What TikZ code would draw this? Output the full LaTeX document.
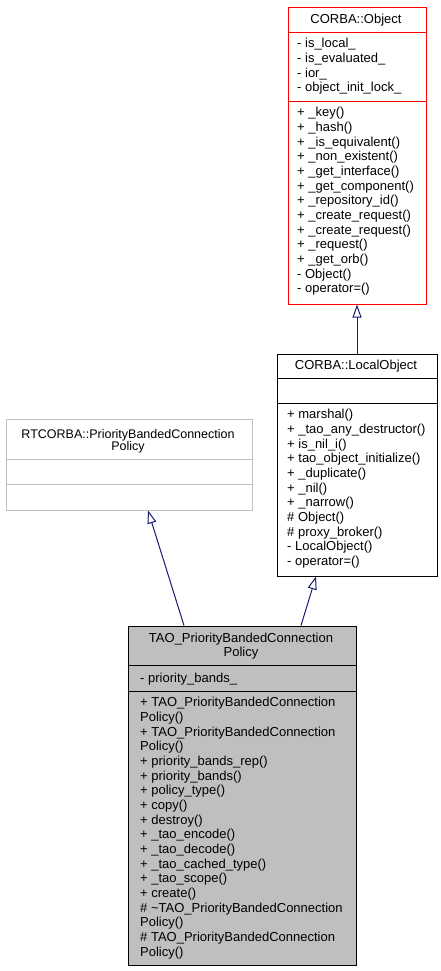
\documentclass[tikz,border=0pt]{standalone}
\usepackage{fontspec}
\setmainfont{Liberation Sans}
\usetikzlibrary{positioning,arrows.meta}
\definecolor{edgeblue}{HTML}{191970}
\definecolor{boxgray}{HTML}{BFBFBF}
\definecolor{linegray}{HTML}{BFBFBF}
\definecolor{objred}{HTML}{FF0000}

\begin{document}
\begin{tikzpicture}[x=1pt, y=-1pt,
% node styles
cls/.style={rectangle, line width=1pt, inner sep=0pt, anchor=north west},
ttl/.style={font=\fontsize{13}{14}\selectfont, align=center, anchor=north, inner sep=0pt},
txt/.style={font=\fontsize{13}{14.67}\selectfont, align=left, anchor=north west, inner sep=0pt, execute at begin node=\strut},
inh/.style={draw=edgeblue, line width=1pt, -{Triangle[open, length=13pt, width=9pt]}}
]
\useasboundingbox (0,0) rectangle (441,971);

% class boxes
\node[cls, draw=objred, minimum width=138pt, minimum height=296pt] (obj) at (287.5,7.5) {};
\node[cls, draw=black, minimum width=160pt, minimum height=222pt] (lobj) at (276.5,353.5) {};
\node[cls, draw=linegray, minimum width=246pt, minimum height=91pt] (rtc) at (5.5,418.5) {};
\node[cls, draw=black, fill=boxgray, minimum width=228pt, minimum height=339pt] (tao) at (127.5,625.5) {};

% compartment lines
\draw[objred, line width=1pt] (287.5,32.5) -- (425.5,32.5) (287.5,101.5) -- (425.5,101.5);
\draw[line width=1pt] (276.5,378.5) -- (436.5,378.5) (276.5,403.5) -- (436.5,403.5);
\draw[linegray, line width=1pt] (5.5,459.5) -- (251.5,459.5) (5.5,484.5) -- (251.5,484.5);
\draw[line width=1pt] (127.5,665.5) -- (355.5,665.5) (127.5,691.5) -- (355.5,691.5);

% texts
\node[ttl, anchor=base] (obj_name) at (356,23.3) {CORBA::Object};
\node[txt] (obj_attr) at (297,38.3) {- is\_local\_\\- is\_evaluated\_\\- ior\_\\- object\_init\_lock\_};
\node[txt] (obj_ops) at (297,107.3) {+ \_key()\\+ \_hash()\\+ \_is\_equivalent()\\+ \_non\_existent()\\+ \_get\_interface()\\+ \_get\_component()\\+ \_repository\_id()\\+ \_create\_request()\\+ \_create\_request()\\+ \_request()\\+ \_get\_orb()\\- Object()\\- operator=()};

\node[ttl, anchor=base] (lobj_name) at (356,369) {CORBA::LocalObject};
\node[txt] (lobj_ops) at (287,409.3) {+ marshal()\\+ \_tao\_any\_destructor()\\+ is\_nil\_i()\\+ tao\_object\_initialize()\\+ \_duplicate()\\+ \_nil()\\+ \_narrow()\\\# Object()\\\# proxy\_broker()\\- LocalObject()\\- operator=()};

\node[ttl, font=\fontsize{12.5}{9.5}\selectfont] (rtc_name) at (128,429) {RTCORBA::PriorityBandedConnection\\Policy};

\node[ttl] (tao_name) at (241,632.5) {TAO\_PriorityBandedConnection\\Policy};
\node[ttl, anchor=base west] (tao_attr) at (140,682.5) {- priority\_bands\_};
\node[txt] (tao_ops) at (140,697.3) {+ TAO\_PriorityBandedConnection\\Policy()\\+ TAO\_PriorityBandedConnection\\Policy()\\+ priority\_bands\_rep()\\+ priority\_bands()\\+ policy\_type()\\+ copy()\\+ destroy()\\+ \_tao\_encode()\\+ \_tao\_decode()\\+ \_tao\_cached\_type()\\+ \_tao\_scope()\\+ create()\\\# \textasciitilde TAO\_PriorityBandedConnection\\Policy()\\\# TAO\_PriorityBandedConnection\\Policy()};

% inheritance
\draw[inh] (lobj.north) -- (obj.south);
\draw[inh] ([xshift=59pt]tao.north) -- ([xshift=-41pt]lobj.south);
\draw[inh] ([xshift=-58pt]tao.north) -- ([xshift=19pt]rtc.south);

\end{tikzpicture}
\end{document}
